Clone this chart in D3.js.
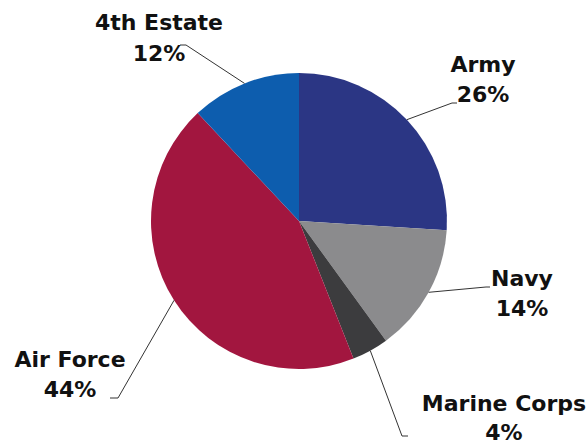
<!DOCTYPE html>
<html lang="en">
<head>
  <meta charset="UTF-8">
  <title>Share by Component</title>
  <script src="https://d3js.org/d3.v7.min.js"></script>
  <style>
    body { margin: 0; background: #fff; }
    .label { font-family: "DejaVu Sans", sans-serif; font-weight: bold; font-size: 22px; fill: #111; }
    .leader { fill: none; stroke: #333; stroke-width: 1; }
  </style>
</head>
<body>
  <svg id="chart" width="587" height="446"></svg>
  <script>
    // data
    const categories = ['Army', 'Navy', 'Marine Corps', 'Air Force', '4th Estate'];
    const values = [26, 14, 4, 44, 12];
    const colors = ['#2b3684', '#8b8b8d', '#3c3c3e', '#a2163f', '#0d5dae'];

    // label placement: elbow point, line end, text anchor (x, first baseline), line gap
    const labelLayout = {
      'Army':         { elbow: [452, 103], end: [457, 103], text: [483, 72], gap: 30 },
      'Navy':         { elbow: [486, 287], end: [490, 287], text: [522, 286], gap: 30 },
      'Marine Corps': { elbow: [402, 436], end: [408, 436], text: [504, 411], gap: 29 },
      'Air Force':    { elbow: [118, 398], end: [110, 398], text: [70, 367], gap: 30 },
      '4th Estate':   { elbow: [186, 45],  end: [180, 45],  text: [159, 30], gap: 31 }
    };

    const svg = d3.select('#chart');
    const cx = 299, cy = 221, radius = 148;

    const pie = d3.pie().sort(null).value((d, i) => values[i]);
    const arcs = pie(categories);
    const arc = d3.arc().innerRadius(0).outerRadius(radius);

    const g = svg.append('g').attr('transform', `translate(${cx},${cy})`);

    g.selectAll('path')
      .data(arcs)
      .enter()
      .append('path')
      .attr('d', arc)
      .attr('fill', (d, i) => colors[i]);

    // leader lines from the outer edge at each slice's mid angle
    arcs.forEach((d, i) => {
      const name = categories[i];
      const lay = labelLayout[name];
      const mid = (d.startAngle + d.endAngle) / 2;
      const sx = cx + radius * Math.sin(mid);
      const sy = cy - radius * Math.cos(mid);

      svg.append('path')
        .attr('class', 'leader')
        .attr('d', d3.line()([[sx, sy], lay.elbow, lay.end]));

      const t = svg.append('text')
        .attr('class', 'label')
        .attr('text-anchor', 'middle')
        .attr('x', lay.text[0])
        .attr('y', lay.text[1]);
      t.append('tspan').attr('x', lay.text[0]).text(name);
      t.append('tspan').attr('x', lay.text[0]).attr('dy', lay.gap).text(values[i] + '%');
    });
  </script>
</body>
</html>
